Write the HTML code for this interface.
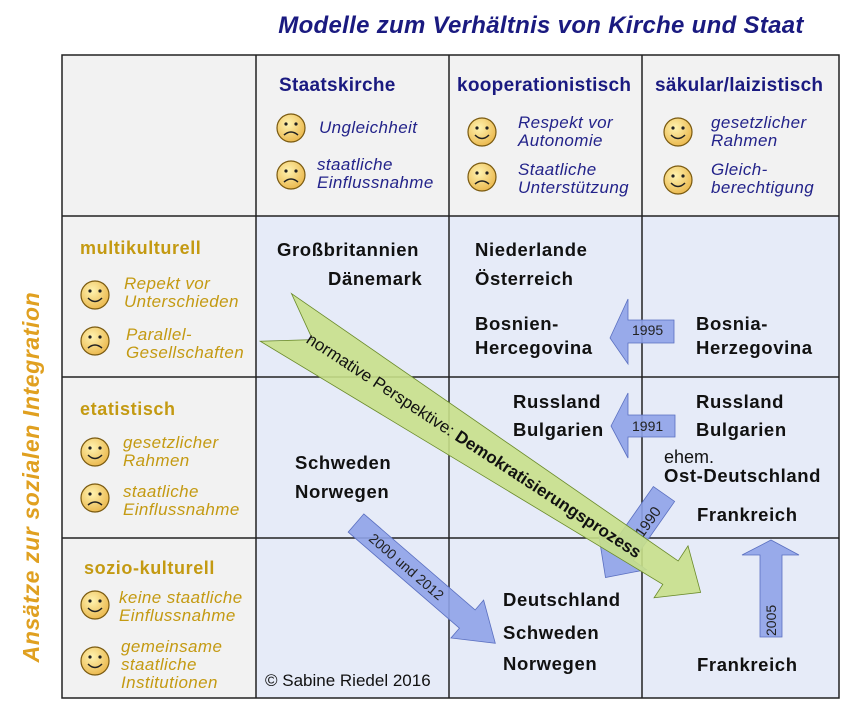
<!DOCTYPE html>
<html><head><meta charset="utf-8"><style>
html,body{margin:0;padding:0;background:#fff}
svg{display:block}
text{font-family:"Liberation Sans",Arial,sans-serif}
.t{font-size:18.5px;font-weight:bold;fill:#111;letter-spacing:0.6px}
.h{font-size:19px;font-weight:bold;fill:#1a1a80;letter-spacing:0.3px}
.i{font-size:17px;font-style:italic;fill:#23238a;letter-spacing:0.4px}
.r{font-size:18px;font-weight:bold;fill:#c49a12;letter-spacing:0.6px}
.ri{font-size:17px;font-style:italic;fill:#c49a12;letter-spacing:0.4px}
</style></head><body>
<svg width="866" height="724" viewBox="0 0 866 724" xmlns="http://www.w3.org/2000/svg">
<defs>
<radialGradient id="sg" cx="40%" cy="35%" r="70%"><stop offset="0" stop-color="#fff3b0"/><stop offset="1" stop-color="#eab64a"/></radialGradient>
<g id="sad"><circle r="14" fill="url(#sg)" stroke="#7a5a10" stroke-width="1.2"/><circle cx="-5" cy="-4" r="1.6" fill="#222"/><circle cx="5" cy="-4" r="1.6" fill="#222"/><path d="M-7,7 Q0,1 7,7" fill="none" stroke="#222" stroke-width="1.5"/></g>
<g id="hap"><circle r="14" fill="url(#sg)" stroke="#7a5a10" stroke-width="1.2"/><circle cx="-5" cy="-4" r="1.6" fill="#222"/><circle cx="5" cy="-4" r="1.6" fill="#222"/><path d="M-7,3 Q0,10 7,3" fill="none" stroke="#222" stroke-width="1.5"/></g>
</defs>
<text x="541" y="33" text-anchor="middle" style="font-size:24px;font-weight:bold;font-style:italic;fill:#1a1a80;letter-spacing:0.3px">Modelle zum Verhältnis von Kirche und Staat</text>
<rect x="62" y="55" width="777" height="643" fill="#f2f2f2"/>
<rect x="256" y="216" width="583" height="482" fill="#e6ebf8"/>
<g stroke="#222" stroke-width="1.5" fill="none">
<rect x="62" y="55" width="777" height="643"/>
<line x1="256" y1="55" x2="256" y2="698"/><line x1="449" y1="55" x2="449" y2="698"/><line x1="642" y1="55" x2="642" y2="698"/>
<line x1="62" y1="216" x2="839" y2="216"/><line x1="62" y1="377" x2="839" y2="377"/><line x1="62" y1="538" x2="839" y2="538"/>
</g>
<text class="h" x="279" y="91">Staatskirche</text>
<text class="h" x="457" y="91">kooperationistisch</text>
<text class="h" x="655" y="91">säkular/laizistisch</text>
<use href="#sad" x="291" y="128"/><text class="i" x="319" y="133">Ungleichheit</text>
<use href="#sad" x="291" y="175"/><text class="i" x="317" y="170">staatliche</text><text class="i" x="317" y="188">Einflussnahme</text>
<use href="#hap" x="482" y="132"/><text class="i" x="518" y="128">Respekt vor</text><text class="i" x="518" y="146">Autonomie</text>
<use href="#sad" x="482" y="177"/><text class="i" x="518" y="175">Staatliche</text><text class="i" x="518" y="193">Unterstützung</text>
<use href="#hap" x="678" y="132"/><text class="i" x="711" y="128">gesetzlicher</text><text class="i" x="711" y="146">Rahmen</text>
<use href="#hap" x="678" y="180"/><text class="i" x="711" y="175">Gleich-</text><text class="i" x="711" y="193">berechtigung</text>

<text class="r" x="80" y="254">multikulturell</text>
<use href="#hap" x="95" y="295"/><text class="ri" x="124" y="289">Repekt vor</text><text class="ri" x="124" y="307">Unterschieden</text>
<use href="#sad" x="95" y="341"/><text class="ri" x="126" y="340">Parallel-</text><text class="ri" x="126" y="358">Gesellschaften</text>
<text class="r" x="80" y="415">etatistisch</text>
<use href="#hap" x="95" y="452"/><text class="ri" x="123" y="448">gesetzlicher</text><text class="ri" x="123" y="466">Rahmen</text>
<use href="#sad" x="95" y="498"/><text class="ri" x="123" y="497">staatliche</text><text class="ri" x="123" y="515">Einflussnahme</text>
<text class="r" x="84" y="574">sozio-kulturell</text>
<use href="#hap" x="95" y="605"/><text class="ri" x="119" y="603">keine staatliche</text><text class="ri" x="119" y="621">Einflussnahme</text>
<use href="#hap" x="95" y="661"/><text class="ri" x="121" y="652">gemeinsame</text><text class="ri" x="121" y="670">staatliche</text><text class="ri" x="121" y="688">Institutionen</text>
<text transform="translate(39,477) rotate(-90)" text-anchor="middle" style="font-size:23px;font-weight:bold;font-style:italic;fill:#e0a020;letter-spacing:0.6px">Ansätze zur sozialen Integration</text>

<text class="t" x="277" y="256">Großbritannien</text><text class="t" x="328" y="285">Dänemark</text>
<text class="t" x="475" y="256">Niederlande</text><text class="t" x="475" y="285">Österreich</text>
<text class="t" x="475" y="330">Bosnien-</text><text class="t" x="475" y="354">Hercegovina</text>
<text class="t" x="696" y="330">Bosnia-</text><text class="t" x="696" y="354">Herzegovina</text>
<text class="t" x="513" y="408">Russland</text><text class="t" x="513" y="436">Bulgarien</text>
<text class="t" x="696" y="408">Russland</text><text class="t" x="696" y="436">Bulgarien</text>
<text x="664" y="463" style="font-size:18px;fill:#111">ehem.</text><text class="t" x="664" y="482">Ost-Deutschland</text>
<text class="t" x="697" y="521">Frankreich</text>
<text class="t" x="295" y="469">Schweden</text><text class="t" x="295" y="498">Norwegen</text>
<text class="t" x="503" y="606">Deutschland</text><text class="t" x="503" y="639">Schweden</text><text class="t" x="503" y="670">Norwegen</text>
<text class="t" x="697" y="671">Frankreich</text>
<text x="265" y="686" style="font-size:17px;fill:#111">©  Sabine Riedel 2016</text>

<!-- blue arrows -->
<g fill="#8fa3e8" stroke="#5a6fc0" stroke-width="0.8" fill-opacity="0.9">
<polygon points="610,338 628,299 628,320 674,320 674,343 628,343 628,364"/>
<polygon points="611,426 628,393 628,415 675,415 675,437 628,437 628,458"/>
<polygon points="771,540 799,555 782,555 782,637 760,637 760,555 742,555"/>
<g transform="translate(356,523) rotate(40.8)"><polygon points="0,-12 147,-12 147,-25 184,0 147,25 147,12 0,12"/></g>
<g transform="translate(664,494) rotate(125)"><polygon points="0,-13 72,-13 72,-29 102,0 72,29 72,13 0,13"/></g>
</g>
<text x="632" y="335" style="font-size:14px;fill:#222">1995</text>
<text x="632" y="431" style="font-size:14px;fill:#222">1991</text>
<text transform="translate(776,636) rotate(-90)" style="font-size:14px;fill:#222">2005</text>
<text transform="translate(356,523) rotate(40.8)" x="20" y="5" style="font-size:14px;fill:#222">2000 und 2012</text>
<text transform="translate(648,522) rotate(-55)" text-anchor="middle" y="5" style="font-size:15px;fill:#222">1990</text>

<!-- green arrow -->
<g transform="translate(285,318) rotate(33.2)">
<polygon points="-8,-24 462,-12 462,-30 498,2 462,32 462,16 -8,33 35,3" fill="#c8e08a" fill-opacity="0.9" stroke="#6a8a2a" stroke-width="0.8"/>
<text x="30" y="9" style="font-size:17px;fill:#111">normative Perspektive: <tspan font-weight="bold">Demokratisierungsprozess</tspan></text>
</g>
</svg>
</body></html>
